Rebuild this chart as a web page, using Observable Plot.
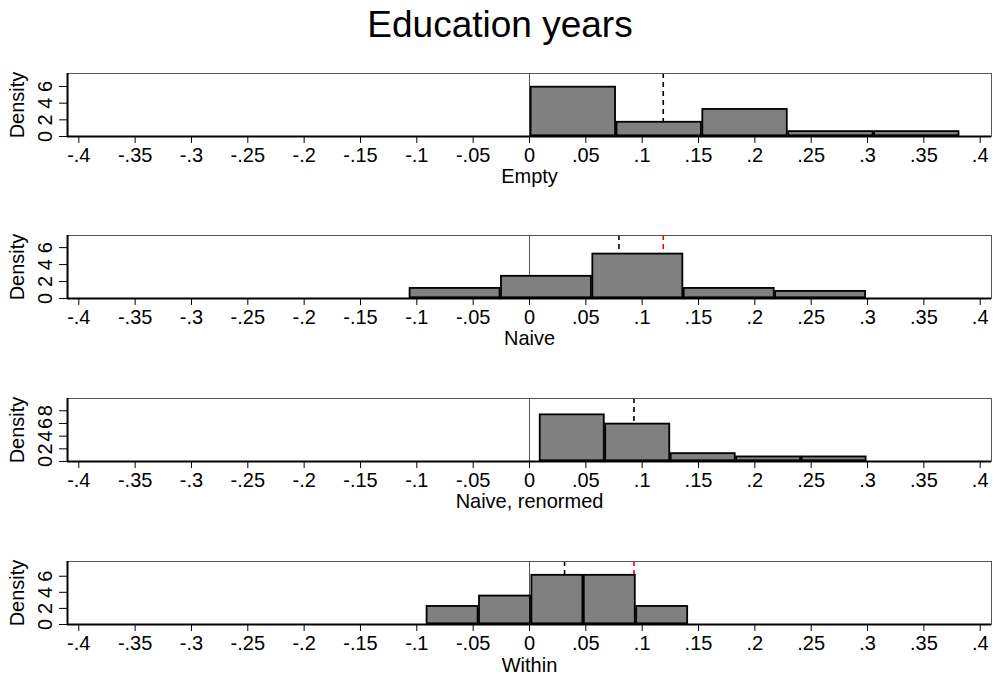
<!DOCTYPE html>
<html><head><meta charset="utf-8">
<script src="https://cdn.jsdelivr.net/npm/d3@7"></script>
<script src="https://cdn.jsdelivr.net/npm/@observablehq/plot@0.6"></script>
<style>
body{margin:0;background:#fff;}
#title{height:64.5px;box-sizing:border-box;padding-top:5.5px;padding-left:6px;font:37px/37px "Liberation Sans",Arial,sans-serif;text-align:center;color:#000}
svg{display:block}
</style></head><body>
<div id="title">Education years</div>
<div id="charts"></div>
<script>
// Panel names (x-axis titles)
const panelNames = ["Empty", "Naive", "Naive, renormed", "Within"];
// x-axis ticks
const xTicks = [-0.4,-0.35,-0.3,-0.25,-0.2,-0.15,-0.1,-0.05,0,0.05,0.1,0.15,0.2,0.25,0.3,0.35,0.4];
const xDomain = [-0.41, 0.41];
// Histogram bin edges per panel
const edgesEmpty   = [0.0008, 0.0770, 0.1532, 0.2294, 0.3056, 0.3818];
const edgesNaive   = [-0.1066, -0.0255, 0.0556, 0.1367, 0.2178, 0.2989];
const edgesRenorm  = [0.0089, 0.0670, 0.1251, 0.1832, 0.2413, 0.2994];
const edgesWithin  = [-0.0915, -0.0450, 0.0015, 0.0480, 0.0945, 0.1410];
// Densities per panel
const densEmpty  = [6.0, 1.79, 3.33, 0.67, 0.67];
const densNaive  = [1.27, 2.70, 5.32, 1.27, 0.92];
const densRenorm = [7.47, 6.01, 1.35, 0.83, 0.83];
const densWithin = [2.33, 3.62, 6.2, 6.2, 2.33];
// y-axis
const yTops = [7.56, 7.43, 9.94, 7.83];
const yTicks4 = [0, 2, 4, 6];
const yTicks5 = [0, 2, 4, 6, 8];
// reference lines: estimate mean (black dashed) and true value (red dashed)
const meanBlack = [0.1187, 0.0794, 0.0927, 0.0311];
const trueRed   = [null, 0.1187, null, 0.0927];

const allEdges = [edgesEmpty, edgesNaive, edgesRenorm, edgesWithin];
const allDens = [densEmpty, densNaive, densRenorm, densWithin];
const allYTicks = [yTicks4, yTicks4, yTicks5, yTicks4];

const fmt = d => { const s = String(+d.toFixed(2)); return s.replace(/^(-?)0\./, "$1."); };

function panel(i) {
  const edges = allEdges[i], dens = allDens[i];
  const bars = dens.map((d, j) => ({x1: edges[j], x2: edges[j + 1], y: d}));
  const last = i === 3;
  const marks = [
    Plot.ruleX([0], {stroke: "#555", strokeWidth: 1}),
    Plot.ruleX([meanBlack[i]], {stroke: "#000", strokeWidth: 1.6, strokeDasharray: "5,4"})
  ];
  if (trueRed[i] != null) marks.push(Plot.ruleX([trueRed[i]], {stroke: "#ff0000", strokeWidth: 1.6, strokeDasharray: "5,4"}));
  marks.push(
    Plot.rectY(bars, {x1: "x1", x2: "x2", y: "y", fill: "#808080", stroke: "#000", strokeWidth: 1.8, inset: 0.7}),
    Plot.frame({stroke: "#555", strokeWidth: 1}),
    Plot.ruleY([0], {stroke: "#000", strokeWidth: 2}),
    Plot.ruleX([xDomain[0]], {stroke: "#000", strokeWidth: 2}),
    Plot.axisX({ticks: xTicks, tickFormat: fmt, tickSize: 7, tickPadding: 4, label: panelNames[i], labelArrow: "none", labelAnchor: "center", labelOffset: 47}),
    Plot.axisY({ticks: allYTicks[i], tickSize: 8, tickPadding: 8, tickRotate: -90, label: "Density", labelArrow: "none", labelAnchor: "center", labelOffset: 58})
  );
  return Plot.plot({
    width: 994, height: last ? 125 : 162.7,
    marginLeft: 67, marginRight: 3, marginTop: 8, marginBottom: last ? 54 : 91.7,
    style: {fontFamily: "'Liberation Sans', Arial, sans-serif", fontSize: "20px", color: "#000", background: "#fff", overflow: "visible"},
    x: {domain: xDomain},
    y: {domain: [0, yTops[i]]},
    marks
  });
}
const host = document.getElementById("charts");
for (let i = 0; i < 4; i++) host.appendChild(panel(i));
</script>
</body></html>
